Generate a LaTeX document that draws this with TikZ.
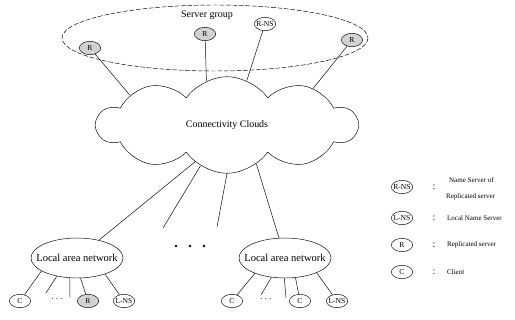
\documentclass[tikz,border=0pt]{standalone}
\usepackage{fontspec}
\setmainfont{Liberation Serif}
\usetikzlibrary{shapes.geometric,shapes.symbols}

\begin{document}
\begin{tikzpicture}[x=0.03cm, y=-0.03cm, font=\fontsize{8.5}{10}\selectfont,
    host/.style={draw, ellipse, inner xsep=-1.5pt, inner ysep=0pt, minimum width=0.64cm, minimum height=0.4cm, font=\fontsize{6.5}{7}\selectfont},
    shadedhost/.style={host, fill=gray!35},
    lan/.style={draw, ellipse, inner xsep=-7.5pt, inner ysep=0pt, minimum width=2.76cm, minimum height=1.2cm, font=\fontsize{9}{10}\selectfont},
    key/.style={anchor=west, font=\fontsize{6}{7}\selectfont}]
    \useasboundingbox (0,0) rectangle (515,320);
    % server group
    \draw[dash pattern=on 4pt off 1.5pt] (215,38) ellipse [x radius=153, y radius=33];
    \node (sg) at (207,15) {Server group};
    \node[shadedhost] (r1) at (90,48) {R};
    \node[shadedhost] (r2) at (205,34) {R};
    \node[host] (rns) at (265,24) {R-NS};
    \node[shadedhost] (r3) at (352,40) {R};
    % cloud
    \node[cloud, draw, cloud puffs=10, cloud puff arc=110, cloud ignores aspect,
        minimum width=7.8cm, minimum height=2.9cm] (cloud) at (227,125) {Connectivity Clouds};
    \draw (r1) -- (cloud.163);
    \draw (r2) -- (cloud.115);
    \draw (rns) -- (cloud.66);
    \draw (r3) -- (cloud.23);
    % local networks
    \node[lan] (lanl) at (77,258) {Local area network};
    \node[lan] (lanr) at (285,258) {Local area network};
    \coordinate (f1) at (163,228);
    \coordinate (f2) at (217,227);
    \draw (cloud.229) -- (lanl);
    \draw (cloud.237) -- (f1);
    \draw (cloud.270) -- (f2);
    \draw (cloud.307) -- (lanr);
    \foreach \x in {176,190,204}
        \fill (\x,246) circle (1.3);
    % left hosts
    \node[host] (cl) at (20,301) {C};
    \node (dl) at (57,299) {$\cdots$};
    \node[shadedhost] (rl) at (88,301) {R};
    \node[host] (nsl) at (124,301) {L-NS};
    \coordinate (f3) at (46,293);
    \coordinate (f4) at (70,298);
    \draw (lanl.200) -- (cl);
    \draw (lanl.222) -- (f3);
    \draw (lanl.250) -- (f4);
    \draw (lanl.280) -- (rl);
    \draw (lanl.330) -- (nsl);
    % right hosts
    \node[host] (cr1) at (232,301) {C};
    \node (dr) at (266,299) {$\cdots$};
    \node[host] (cr2) at (300,301) {C};
    \node[host] (nsr) at (337,301) {L-NS};
    \coordinate (f5) at (261,295);
    \coordinate (f6) at (286,298);
    \draw (lanr.207) -- (cr1);
    \draw (lanr.235) -- (f5);
    \draw (lanr.268) -- (f6);
    \draw (lanr.298) -- (cr2);
    \draw (lanr.335) -- (nsr);
    % legend
    \node[host] (k1) at (402,187) {R-NS};
    \node[host] (k2) at (402,218) {L-NS};
    \node[host] (k3) at (402,245) {R};
    \node[host] (k4) at (402,272) {C};
    \foreach \y in {187,218,245,272}
        \node at (434,\y) {:};
    \node[key] (t1) at (445,180) {Name Server of};
    \node[key] (t1b) at (442,197) {Replicated server};
    \node[key] (t2) at (443,218) {Local Name Server};
    \node[key] (t3) at (443,245) {Replicated server};
    \node[key] (t4) at (443,272) {Client};
\end{tikzpicture}
\end{document}
